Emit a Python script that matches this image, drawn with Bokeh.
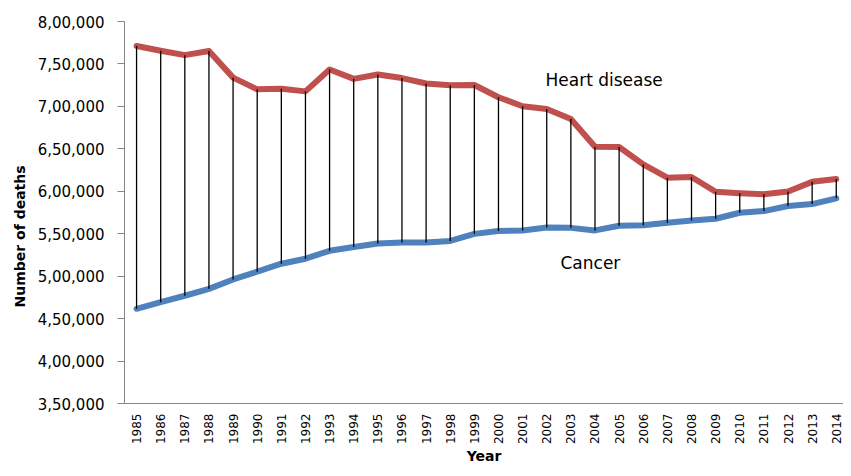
import math
from bokeh.plotting import figure
from bokeh.models import Range1d, FixedTicker, Label, Title
from bokeh.embed import file_html
from bokeh.resources import INLINE

years = list(range(1985, 2015))
heart_disease = [771169, 765490, 760353, 765156, 733867, 720058, 720862, 717706,
                 743460, 732409, 737563, 733361, 726974, 724859, 725192, 710760,
                 700142, 696947, 685089, 652486, 652091, 631636, 616067, 616828,
                 599413, 597689, 596577, 599711, 611105, 614348]
cancer = [461563, 469376, 476927, 485048, 496152, 505322, 514657, 520578,
          529904, 534310, 538455, 539533, 539577, 541532, 549838, 553091,
          553768, 557271, 556902, 553888, 559312, 559888, 562875, 565469,
          567628, 574743, 576691, 582623, 584881, 591699]
y_ticks = [350000, 400000, 450000, 500000, 550000, 600000, 650000, 700000, 750000, 800000]
y_tick_labels = ["3,50,000", "4,00,000", "4,50,000", "5,00,000", "5,50,000",
                 "6,00,000", "6,50,000", "7,00,000", "7,50,000", "8,00,000"]
x_tick_labels = [str(y) for y in years]

FONT = "DejaVu Sans"

p = figure(width=843, height=468, output_backend="svg", toolbar_location=None,
           x_range=Range1d(1984.5, 2014.3), y_range=Range1d(350000, 800000),
           min_border_left=124, min_border_right=0, min_border_top=21,
           min_border_bottom=65)
p.outline_line_color = None
p.xgrid.grid_line_color = None
p.ygrid.grid_line_color = None
p.background_fill_color = "white"

# lines
p.line(years, heart_disease, line_color="#C0504D", line_width=6,
       line_join="round", line_cap="round")
p.line(years, cancer, line_color="#4F81BD", line_width=6,
       line_join="round", line_cap="round")
# high-low lines
p.segment(x0=years, y0=cancer, x1=years, y1=heart_disease,
          line_color="black", line_width=1.3)

# axes
xa = p.xaxis[0]
xa.ticker = FixedTicker(ticks=years)
xa.major_label_overrides = {y: s for y, s in zip(years, x_tick_labels)}
xa.major_label_orientation = math.pi / 2
xa.major_tick_out = 0
xa.major_tick_in = 0
xa.minor_tick_out = 0
xa.minor_tick_in = 0
xa.axis_line_color = "#868686"
xa.major_label_text_font = FONT
xa.major_label_text_font_size = "12px"
xa.major_label_text_color = "black"
xa.major_label_standoff = 10
xa.axis_label = "Year"
xa.axis_label_text_font = FONT
xa.axis_label_text_font_size = "14px"
xa.axis_label_text_font_style = "bold"
xa.axis_label_text_color = "black"
xa.axis_label_standoff = 1

ya = p.yaxis[0]
ya.ticker = FixedTicker(ticks=y_ticks)
ya.major_label_overrides = {t: s for t, s in zip(y_ticks, y_tick_labels)}
ya.major_tick_out = 7
ya.major_tick_in = 0
ya.minor_tick_out = 0
ya.minor_tick_in = 0
ya.axis_line_color = "#868686"
ya.major_tick_line_color = "#868686"
ya.major_label_text_font = FONT
ya.major_label_text_font_size = "15px"
ya.major_label_text_color = "black"
ya.major_label_standoff = 13

# y-axis title, shifted down like the reference
p.add_layout(Title(text="Number of deaths", text_font=FONT, text_font_size="14px",
                   text_font_style="bold", text_color="black", align="left",
                   offset=96, standoff=14), "left")

p.add_layout(Label(x=2001.95, y=731500, text="Heart disease", text_font=FONT,
                   text_font_size="17px", text_color="black",
                   text_align="left", text_baseline="middle"))
p.add_layout(Label(x=2002.57, y=515400, text="Cancer", text_font=FONT,
                   text_font_size="17px", text_color="black",
                   text_align="left", text_baseline="middle"))

open("out.html", "w").write(file_html(p, INLINE))
